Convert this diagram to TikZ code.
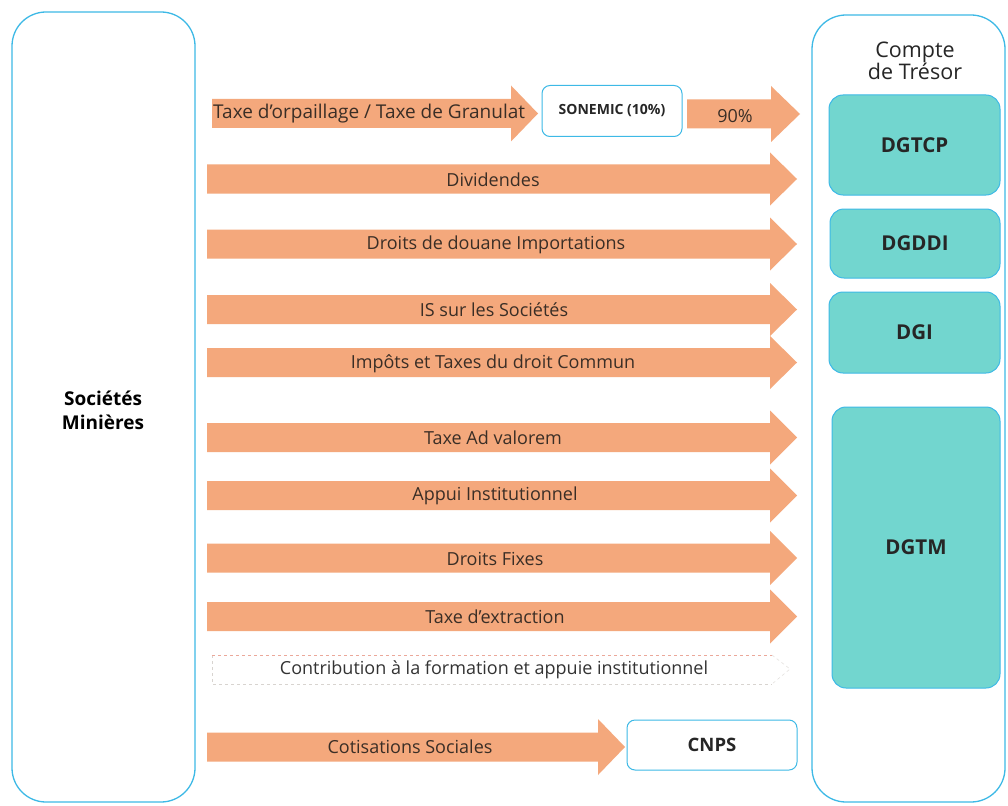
\documentclass[tikz,border=0pt]{standalone}
\usepackage{fontspec}
\setmainfont{Open Sans}
\definecolor{bordblue}{HTML}{3DB9E6}
\definecolor{tealfill}{HTML}{72D6CF}
\definecolor{arrowfill}{HTML}{F4A87C}
\definecolor{labelcol}{HTML}{3A2E26}
\definecolor{dashred}{HTML}{EBA89A}
\definecolor{dashgray}{HTML}{D8D4D0}
\newcommand\farrow[5]{%
  \fill[arrowfill] (#1,#4-14.5) -- (#2,#4-14.5) -- (#2,#4-#5) -- (#3,#4) -- (#2,#4+#5) -- (#2,#4+14.5) -- (#1,#4+14.5) -- cycle;}
\begin{document}
\begin{tikzpicture}[x=1pt,y=-1pt,
  bigbox/.style={draw=bordblue, line width=1.3pt, rounded corners=34pt, fill=white},
  tealbox/.style={draw=bordblue, line width=1pt, fill=tealfill, rounded corners=14pt, inner sep=0pt, font=\bfseries\fontsize{20.5}{22}\selectfont, text=black!85},
  whitebox/.style={draw=bordblue, line width=1pt, fill=white, rounded corners=8pt, inner sep=0pt, text=black!85},
  lab/.style={text=labelcol, font=\fontsize{18}{20}\selectfont, inner sep=0pt}]
\useasboundingbox (0,0) rectangle (1008,805);
\fill[white] (0,0) rectangle (1008,805);
% big boxes
\draw[bigbox] (12,12) rectangle (195,802);
\node[font=\bfseries\fontsize{19}{24}\selectfont, align=center, text=black] (soc) at (103,410) {Sociétés\\Minières};
\draw[bigbox] (812,15) rectangle (1005,802);
\node[font=\fontsize{21.5}{20}\selectfont, align=center, text=black!85] (tresor) at (915,61) {Compte\\de Trésor};
% teal boxes
\node[tealbox, minimum width=171pt, minimum height=100pt] (dgtcp) at (914.5,145) {DGTCP};
\node[tealbox, minimum width=170pt, minimum height=69pt] (dgddi) at (915,243.5) {DGDDI};
\node[tealbox, minimum width=171pt, minimum height=81pt] (dgi) at (914.5,332.5) {DGI};
\node[tealbox, minimum width=168pt, minimum height=281pt] (dgtm) at (916,547.5) {DGTM};
% white boxes
\node[whitebox, minimum width=140pt, minimum height=51pt, font=\bfseries\fontsize{14}{16}\selectfont] (sonemic) at (612,111) {SONEMIC (10\%)};
\node[whitebox, minimum width=170pt, minimum height=50pt, font=\bfseries\fontsize{18.5}{20}\selectfont] (cnps) at (712,745) {CNPS};
% arrows
\farrow{212}{511}{538}{113.5}{28}
\farrow{687}{771}{800}{114}{28}
\farrow{207}{770}{797}{179}{26.5}
\farrow{207}{770}{797}{244}{26.5}
\farrow{207}{770}{797}{309.5}{26.5}
\farrow{207}{770}{797}{362.5}{26.5}
\farrow{207}{770}{797}{437.5}{27}
\farrow{207}{770}{797}{495.5}{27}
\farrow{207}{770}{797}{558}{27}
\farrow{207}{770}{797}{616.5}{27}
\farrow{207}{598}{625}{747}{28}
% contribution dashed box
\draw[dashgray, dashed, line width=0.6pt] (212,655) -- (212,684) -- (772,684);
\draw[dashgray!70, dashed, line width=0.6pt] (772,655) -- (790,669) -- (772,684);
\draw[dashred, dashed, line width=0.9pt] (212,655) -- (772,655);
% labels
\node[lab, anchor=west, font=\fontsize{19}{20}\selectfont] (l1) at (213,114) {Taxe d’orpaillage / Taxe de Granulat};
\node[lab] (l2) at (735,116) {90\%};
\node[lab] (l3) at (493,180) {Dividendes};
\node[lab] (l4) at (496,245) {Droits de douane Importations};
\node[lab] (l5) at (494,310) {IS sur les Sociétés};
\node[lab] (l6) at (493,364) {Impôts et Taxes du droit Commun};
\node[lab] (l7) at (493,438) {Taxe Ad valorem};
\node[lab] (l8) at (495,496) {Appui Institutionnel};
\node[lab] (l9) at (495,559) {Droits Fixes};
\node[lab] (l10) at (495,617) {Taxe d'extraction};
\node[lab, text=black!80] (l11) at (494,670) {Contribution à la formation et appuie institutionnel};
\node[lab] (l12) at (410,747) {Cotisations Sociales};
\end{tikzpicture}
\end{document}
